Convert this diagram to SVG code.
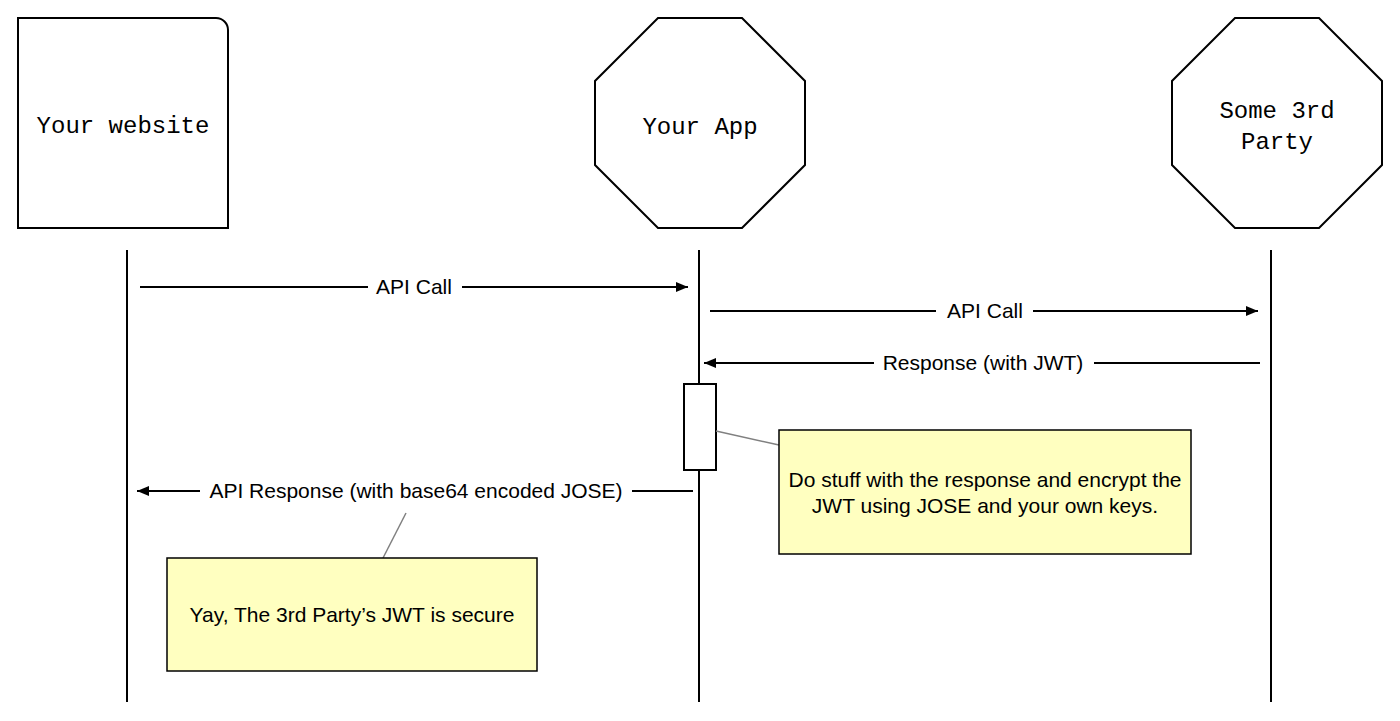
<svg xmlns="http://www.w3.org/2000/svg" width="1400" height="721" viewBox="0 0 1400 721">
<defs>
<marker id="ah" markerWidth="12" markerHeight="10" refX="12" refY="5" orient="auto" markerUnits="userSpaceOnUse">
<path d="M0,0 L12,5 L0,10 z" fill="#000"/>
</marker>
<style>
.node{fill:#fff;stroke:#000;stroke-width:2}
.nt{font-family:"Liberation Mono","Courier New",monospace;font-size:24px;fill:#000;text-anchor:middle}
.life{stroke:#000;stroke-width:2;fill:none}
.msg{stroke:#000;stroke-width:2;fill:none;marker-end:url(#ah)}
.ml{font-family:"Liberation Sans",Arial,sans-serif;font-size:21px;fill:#000;text-anchor:middle}
.note{fill:#ffffc0;stroke:#000;stroke-width:1.5}
.nl{stroke:#808080;stroke-width:1.5;fill:none}
</style>
</defs>
<rect width="1400" height="721" fill="#fff"/>
<g id="website">
<path class="node" d="M18,18 H216 A12,12 0 0 1 228,30 V228 H18 Z"/>
<text class="nt" x="123" y="133">Your website</text>
</g>
<g id="app">
<polygon class="node" points="658,18 742,18 805,81 805,165 742,228 658,228 595,165 595,81"/>
<text class="nt" x="700" y="134">Your App</text>
</g>
<g id="thirdparty">
<polygon class="node" points="1235,18 1319,18 1382,81 1382,165 1319,228 1235,228 1172,165 1172,81"/>
<text class="nt" x="1277" y="118">Some 3rd</text>
<text class="nt" x="1277" y="149">Party</text>
</g>
<g id="lifelines">
<line class="life" x1="127" y1="250" x2="127" y2="702"/>
<line class="life" x1="699" y1="250" x2="699" y2="384"/>
<line class="life" x1="699" y1="470" x2="699" y2="702"/>
<line class="life" x1="1271" y1="250" x2="1271" y2="702"/>
</g>
<g id="activation">
<rect x="684" y="384" width="32" height="86" fill="#fff" stroke="#000" stroke-width="2"/>
</g>
<g id="connectors">
<line class="life" x1="140" y1="287" x2="368" y2="287"/>
<line class="msg" x1="462" y1="287" x2="688" y2="287"/>
<text class="ml" x="414" y="294">API Call</text>
<line class="life" x1="710" y1="311" x2="936" y2="311"/>
<line class="msg" x1="1033" y1="311" x2="1258" y2="311"/>
<text class="ml" x="985" y="318">API Call</text>
<line class="life" x1="1260" y1="363" x2="1094" y2="363"/>
<line class="msg" x1="874" y1="363" x2="704" y2="363"/>
<text class="ml" x="983" y="370">Response (with JWT)</text>
<line class="life" x1="693" y1="491" x2="632" y2="491"/>
<line class="msg" x1="200" y1="491" x2="137" y2="491"/>
<text class="ml" x="416" y="498">API Response (with base64 encoded JOSE)</text>
<line class="nl" x1="716" y1="431" x2="779" y2="445"/>
<line class="nl" x1="383" y1="558" x2="406" y2="513"/>
</g>
<g id="note1">
<rect class="note" x="779" y="430" width="412" height="124"/>
<text class="ml" x="985" y="487">Do stuff with the response and encrypt the</text>
<text class="ml" x="985" y="513">JWT using JOSE and your own keys.</text>
</g>
<g id="note2">
<rect class="note" x="167" y="558" width="370" height="113"/>
<text class="ml" x="352" y="622">Yay, The 3rd Party’s JWT is secure</text>
</g>
</svg>
